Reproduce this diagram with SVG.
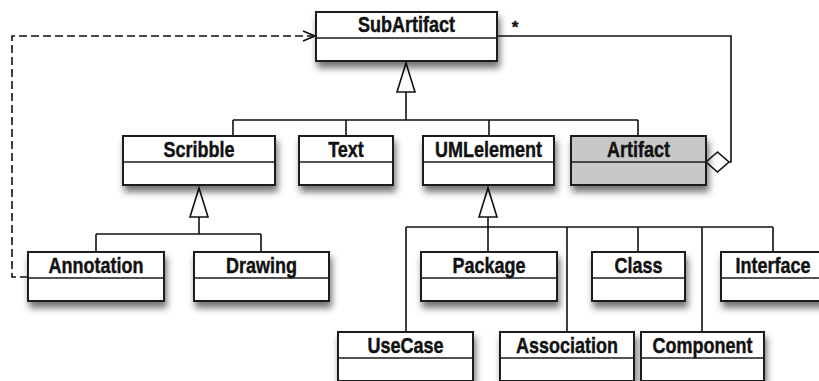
<svg xmlns="http://www.w3.org/2000/svg" width="819" height="381" viewBox="0 0 819 381">
  <style>
    .box { fill: #ffffff; stroke: #1a1a1a; stroke-width: 2; filter: url(#shadow); }
    .box.gray { fill: #c8c8c8; }
    .div { stroke: #1a1a1a; stroke-width: 1.6; fill: none; }
    .t { font-family: "Liberation Sans", Arial, Helvetica, sans-serif; font-weight: bold; font-size: 18px; text-anchor: middle; fill: #111111; stroke: #111111; stroke-width: 0.35; }
    .ln { stroke: #111111; stroke-width: 1.6; fill: none; }
    .dash { stroke: #111111; stroke-width: 1.6; fill: none; stroke-dasharray: 8 4; }
    .tri { fill: #ffffff; stroke: #111111; stroke-width: 1.6; stroke-linejoin: miter; }
  </style>
  <defs>
    <filter id="shadow" x="-10%" y="-20%" width="125%" height="170%">
      <feDropShadow dx="2" dy="6" stdDeviation="3.5" flood-color="#000000" flood-opacity="0.55"/>
    </filter>
    <marker id="open" markerWidth="14" markerHeight="12" refX="13" refY="6" orient="auto" markerUnits="userSpaceOnUse">
      <path d="M1,1 L13,6 L1,11" fill="none" stroke="#111111" stroke-width="1.6"/>
    </marker>
  </defs>

  <rect width="819" height="381" fill="#ffffff"/>

  <!-- connectors -->
  <g id="connectors">
    <!-- generalization to SubArtifact -->
    <path class="ln" d="M406,92 V120 M233,120 H638 M233,120 V136 M346,120 V136 M489,120 V136 M638,120 V136"/>
    <polygon class="tri" points="406,63 415,92 397,92"/>
    <!-- generalization to Scribble -->
    <path class="ln" d="M199,217 V234 M96,234 H261 M96,234 V252 M261,234 V252"/>
    <polygon class="tri" points="199,188 208,217 190,217"/>
    <!-- generalization to UMLelement -->
    <path class="ln" d="M488,217 V227 M406,227 H773 M406,227 V332 M488,227 V252 M567,227 V332 M638,227 V252 M702,227 V332 M773,227 V252"/>
    <polygon class="tri" points="488,188 497,217 479,217"/>
    <!-- aggregation Artifact -> SubArtifact -->
    <path class="ln" d="M729,162 H731 V36 H497"/>
    <polygon points="706,162 717.5,152 729,162 717.5,172" fill="#ffffff" stroke="#111111" stroke-width="1.6"/>
    <text class="t" x="515" y="33" style="font-size:17px">*</text>
    <!-- dependency Annotation -> SubArtifact -->
    <path class="dash" d="M28,277 H12 V36 H315" marker-end="url(#open)"/>
  </g>

  <!-- classes -->
  <g id="SubArtifact">
    <rect class="box" x="316" y="12" width="181" height="49"/>
    <line class="div" x1="316" y1="38" x2="497" y2="38"/>
    <text class="t" transform="translate(406.5 32) scale(1 1.22)">SubArtifact</text>
  </g>
  <g id="Scribble">
    <rect class="box" x="123" y="136" width="152" height="49"/>
    <line class="div" x1="123" y1="162" x2="275" y2="162"/>
    <text class="t" transform="translate(199 156.5) scale(1 1.22)">Scribble</text>
  </g>
  <g id="Text">
    <rect class="box" x="299" y="136" width="94" height="49"/>
    <line class="div" x1="299" y1="162" x2="393" y2="162"/>
    <text class="t" transform="translate(346 156.5) scale(1 1.22)">Text</text>
  </g>
  <g id="UMLelement">
    <rect class="box" x="423" y="136" width="131" height="49"/>
    <line class="div" x1="423" y1="162" x2="554" y2="162"/>
    <text class="t" transform="translate(488.5 156.5) scale(1 1.22)">UMLelement</text>
  </g>
  <g id="Artifact">
    <rect class="box gray" x="571" y="136" width="135" height="49"/>
    <line class="div" x1="571" y1="162" x2="706" y2="162"/>
    <text class="t" transform="translate(638.5 156.5) scale(1 1.22)">Artifact</text>
  </g>
  <g id="Annotation">
    <rect class="box" x="28" y="252" width="136" height="49"/>
    <line class="div" x1="28" y1="278" x2="164" y2="278"/>
    <text class="t" transform="translate(96 272.5) scale(1 1.22)">Annotation</text>
  </g>
  <g id="Drawing">
    <rect class="box" x="194" y="252" width="135" height="49"/>
    <line class="div" x1="194" y1="278" x2="329" y2="278"/>
    <text class="t" transform="translate(261.5 272.5) scale(1 1.22)">Drawing</text>
  </g>
  <g id="Package">
    <rect class="box" x="421" y="252" width="136" height="49"/>
    <line class="div" x1="421" y1="278" x2="557" y2="278"/>
    <text class="t" transform="translate(489 272.5) scale(1 1.22)">Package</text>
  </g>
  <g id="Class">
    <rect class="box" x="592" y="252" width="93" height="49"/>
    <line class="div" x1="592" y1="278" x2="685" y2="278"/>
    <text class="t" transform="translate(638.5 272.5) scale(1 1.22)">Class</text>
  </g>
  <g id="Interface">
    <rect class="box" x="721" y="252" width="104" height="49"/>
    <line class="div" x1="721" y1="278" x2="825" y2="278"/>
    <text class="t" transform="translate(773 272.5) scale(1 1.22)">Interface</text>
  </g>
  <g id="UseCase">
    <rect class="box" x="338" y="332" width="135" height="49"/>
    <line class="div" x1="338" y1="358" x2="473" y2="358"/>
    <text class="t" transform="translate(405.5 352.5) scale(1 1.22)">UseCase</text>
  </g>
  <g id="Association">
    <rect class="box" x="500" y="332" width="134" height="49"/>
    <line class="div" x1="500" y1="358" x2="634" y2="358"/>
    <text class="t" transform="translate(567 352.5) scale(1 1.22)">Association</text>
  </g>
  <g id="Component">
    <rect class="box" x="641" y="332" width="123" height="49"/>
    <line class="div" x1="641" y1="358" x2="764" y2="358"/>
    <text class="t" transform="translate(702.5 352.5) scale(1 1.22)">Component</text>
  </g>
</svg>
